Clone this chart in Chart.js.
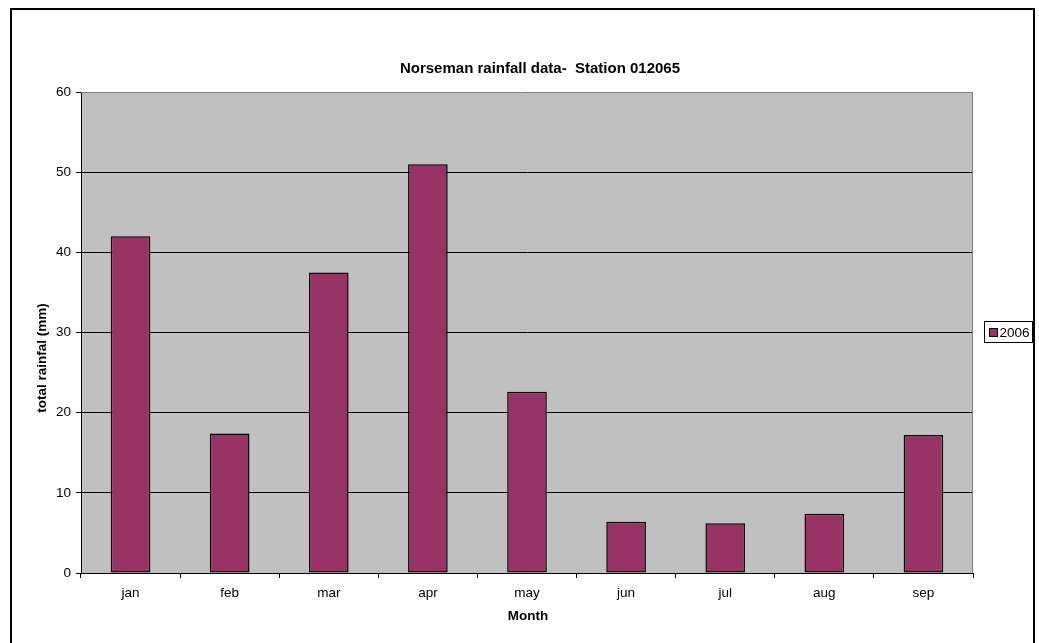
<!DOCTYPE html>
<html>
<head>
<meta charset="utf-8">
<script src="https://cdn.jsdelivr.net/npm/chart.js@4/dist/chart.umd.min.js"></script>
<style>
  html, body { margin: 0; padding: 0; background: #fff; }
  #wrap { width: 1039px; height: 643px; position: relative; }
</style>
</head>
<body>
<div id="wrap"><canvas id="c" width="1039" height="643"></canvas></div>
<script>
// Monthly rainfall totals, Norseman station 012065
const months = ['jan', 'feb', 'mar', 'apr', 'may', 'jun', 'jul', 'aug', 'sep'];
const rain2006 = [42, 17.4, 37.5, 51, 22.6, 6.4, 6.2, 7.4, 17.2];
const seriesLabel = '2006';
const yTicks = [0, 10, 20, 30, 40, 50, 60];

const FONT = 'Arial, "Liberation Sans", sans-serif';

const decor = {
  id: 'decor',
  beforeDraw(chart) {
    const { ctx, chartArea: a } = chart;
    ctx.save();
    ctx.fillStyle = '#c0c0c0';
    ctx.fillRect(a.left, a.top, a.right - a.left, a.bottom - a.top);
    ctx.restore();
  },
  afterDraw(chart) {
    const { ctx, chartArea: a } = chart;
    ctx.save();
    // plot area frame (top and right)
    ctx.strokeStyle = '#808080';
    ctx.lineWidth = 1;
    ctx.beginPath();
    ctx.moveTo(a.left, a.top + 0.5);
    ctx.lineTo(a.right - 0.5, a.top + 0.5);
    ctx.lineTo(a.right - 0.5, a.bottom);
    ctx.stroke();

    // outer chart frame
    ctx.strokeStyle = '#000';
    ctx.lineWidth = 2;
    ctx.beginPath();
    ctx.moveTo(11, 650);
    ctx.lineTo(11, 9);
    ctx.lineTo(1034, 9);
    ctx.lineTo(1034, 650);
    ctx.stroke();

    // title
    ctx.fillStyle = '#000';
    ctx.textAlign = 'center';
    ctx.textBaseline = 'middle';
    ctx.font = 'bold 15px ' + FONT;
    ctx.fillText('Norseman rainfall data-  Station 012065', 540, 69);

    // axis titles
    ctx.font = 'bold 13.5px ' + FONT;
    ctx.fillText('Month', 528, 616);
    ctx.save();
    ctx.translate(42, 358);
    ctx.rotate(-Math.PI / 2);
    ctx.fillText('total rainfal (mm)', 0, 0);
    ctx.restore();

    // legend
    const ds = chart.data.datasets[0];
    ctx.fillStyle = '#fff';
    ctx.fillRect(984.5, 321.5, 48, 21);
    ctx.strokeStyle = '#000';
    ctx.lineWidth = 1;
    ctx.strokeRect(984.5, 321.5, 48, 21);
    ctx.fillStyle = ds.backgroundColor;
    ctx.fillRect(989.5, 328.5, 8, 8);
    ctx.strokeRect(989.5, 328.5, 8, 8);
    ctx.fillStyle = '#000';
    ctx.textAlign = 'left';
    ctx.font = '13.5px ' + FONT;
    ctx.fillText(ds.label, 999.5, 333);
    ctx.restore();
  }
};

new Chart(document.getElementById('c'), {
  type: 'bar',
  data: {
    labels: months,
    datasets: [{
      label: seriesLabel,
      data: rain2006,
      backgroundColor: '#993366',
      borderColor: '#000',
      borderWidth: 1.5,
      borderSkipped: false,
      categoryPercentage: 1.0,
      barPercentage: 0.4
    }]
  },
  options: {
    responsive: false,
    animation: false,
    devicePixelRatio: 1,
    layout: { padding: { top: 92, right: 66, bottom: 0, left: 0 } },
    plugins: {
      legend: { display: false },
      title: { display: false },
      tooltip: { enabled: false }
    },
    scales: {
      x: {
        offset: true,
        grid: {
          offset: true,
          drawOnChartArea: false,
          color: '#000',
          tickLength: 5
        },
        border: { color: '#000', width: 1 },
        ticks: { color: '#000', font: { family: FONT, size: 13.5 }, padding: 7, maxRotation: 0 },
        afterFit(s) { s.height = 70; }
      },
      y: {
        min: 0,
        max: 60,
        afterBuildTicks(s) { s.ticks = yTicks.map(v => ({ value: v })); },
        grid: { color: '#000', tickLength: 5, lineWidth: 1 },
        border: { color: '#000', width: 1 },
        ticks: { color: '#000', font: { family: FONT, size: 13.5 }, padding: 5 },
        afterFit(s) { s.width = 81; }
      }
    }
  },
  plugins: [decor]
});
</script>
</body>
</html>
